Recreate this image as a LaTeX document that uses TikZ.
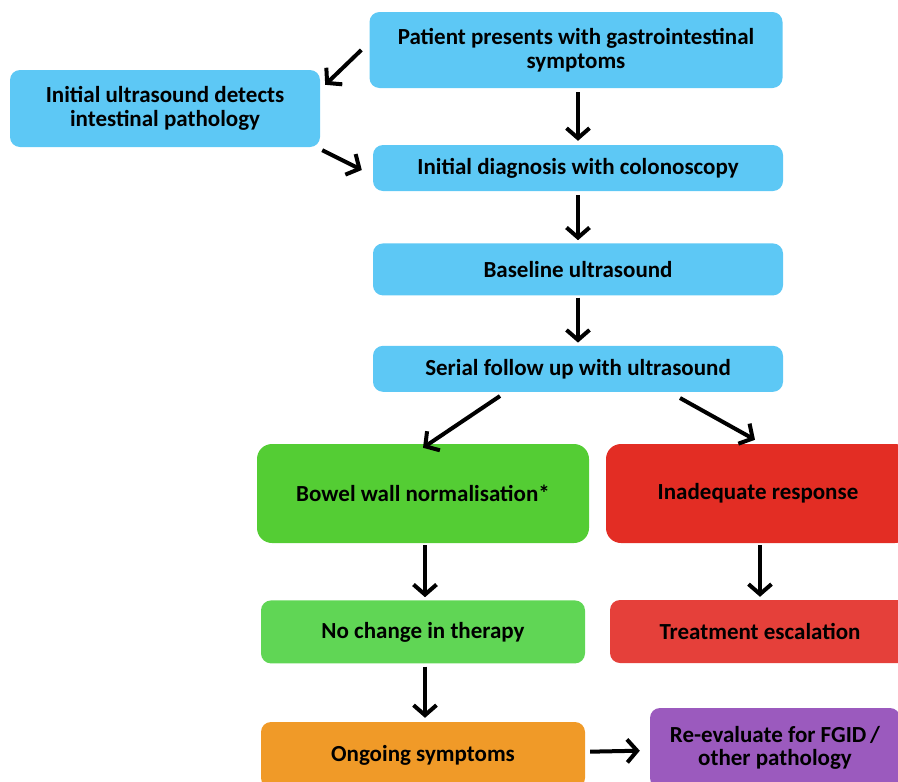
\documentclass[tikz,border=0pt]{standalone}
\usepackage{fontspec}
\setmainfont{Carlito}
\usetikzlibrary{positioning}
\usetikzlibrary{arrows.meta}
\definecolor{stepblue}{RGB}{93,200,245}
\definecolor{okgreen}{RGB}{84,205,52}
\definecolor{okgreenlight}{RGB}{96,214,85}
\definecolor{badred}{RGB}{227,45,36}
\definecolor{badredlight}{RGB}{229,64,58}
\definecolor{warnorange}{RGB}{240,154,40}
\definecolor{evalpurple}{RGB}{155,90,190}
\tikzset{main node/.style={shape=rectangle, rounded corners=10pt,
    align=center, inner sep=0pt, font=\fontsize{23}{23.5}\selectfont\bfseries},
  flow/.style={line width=4pt, -{Straight Barb[length=10pt,width=23pt]}}}

\begin{document}
\begin{tikzpicture}[x=1pt,y=-1pt]
    \useasboundingbox (0,0) rectangle (898,782);

    \node[main node, fill=stepblue, minimum width=413pt, minimum height=76pt] (1) at (576,50)
        {Patient presents with gastrointestinal\\symptoms};
    \node[main node, fill=stepblue, minimum width=310pt, minimum height=77pt] (2) at (165,108.5)
        {Initial ultrasound detects\\intestinal pathology};

    \node[main node, fill=stepblue, minimum width=410pt, minimum height=46pt] (3) at (578,168)
        {Initial diagnosis with colonoscopy};
    \node[main node, fill=stepblue, minimum width=410pt, minimum height=52pt] (4) [below = 52pt of 3] {Baseline ultrasound};
    \node[main node, fill=stepblue, minimum width=410pt, minimum height=46pt] (5) [below = 50pt of 4] {Serial follow up with ultrasound};

	\node[main node, rounded corners=15pt, fill=okgreen, minimum width=332pt, minimum height=99pt] (6) at (423,493.5)
        {Bowel wall normalisation*};
	\node[main node, rounded corners=15pt, fill=badred, minimum width=304pt, minimum height=99pt] (7) at (758,493.5)
        {Inadequate response};

	\node[main node, fill=okgreenlight, minimum width=324pt, minimum height=63pt] (8) [below = 57pt of 6] {No change in therapy};
	\node[main node, fill=badredlight, minimum width=300pt, minimum height=63pt] (9) at (760,631.5) {Treatment escalation};

	\node[main node, fill=warnorange, minimum width=324pt, minimum height=66pt] (10) at (423,755) {Ongoing symptoms};
	\node[main node, fill=evalpurple, minimum width=250pt, minimum height=80pt] (11) at (775,748)
        {Re-evaluate for FGID\,/\\other pathology};

    \path[draw]
    ([xshift=-8]1.west) edge[flow] ([shift={(5,15)}]2.north east)
    ([shift={(2,3)}]2.south east) edge[flow] ([shift={(-11,2)}]3.west)
    ([xshift=2]1.south) edge[flow, shorten <=4pt, shorten >=4pt] (3.north)
    (3) edge[flow, shorten <=4pt, shorten >=3pt] (4)
    (4) edge[flow, shorten <=2pt, shorten >=3pt] (5)

    ([shift={(-78,4)}]5.south) edge[flow] ([yshift=-4]6.north)
    ([shift={(102,6)}]5.south) edge[flow] ([shift={(-3,-4)}]7.north)

    ([xshift=2]6.south) edge[flow, shorten <=2pt, shorten >=3pt] ([xshift=2]8.north)
    ([xshift=2]7.south) edge[flow, shorten <=2pt, shorten >=3pt] (9.north)
    ([xshift=2]8.south) edge[flow, shorten <=3pt, shorten >=4pt] ([xshift=2]10.north)
    (10) edge[flow, shorten <=5pt, shorten >=10pt] (11)
    ;
\end{tikzpicture}
\end{document}
